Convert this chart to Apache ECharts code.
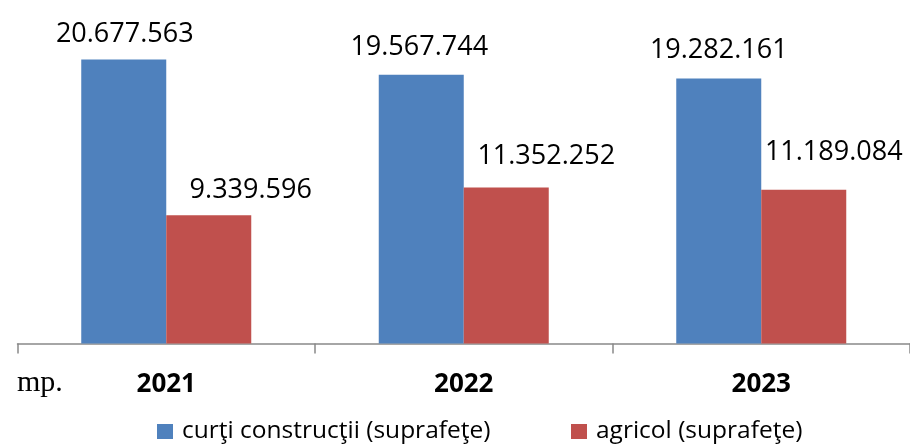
<!DOCTYPE html>
<html>
<head>
<meta charset="utf-8">
<script src="https://cdn.jsdelivr.net/npm/echarts@6/dist/echarts.min.js"></script>
<style>html,body{margin:0;padding:0;background:#fff}#c{width:910px;height:447px}</style>
</head>
<body>
<div id="c"></div>
<script>
var categories = ['2021', '2022', '2023'];
var seriesNames = ['curţi construcţii (suprafeţe)', 'agricol (suprafeţe)'];
var curtiValues = [20677563, 19567744, 19282161];
var agricolValues = [9339596, 11352252, 11189084];

// label placement styling (not data)
var blueLabelDist = [12, 14, 15];
var redLabelDist = [11, 18, 24];
var blueLabelShift = [1, -2, 0];
var redLabelShift = [42, 40, 30];

function fmt(v) {
  return String(v).replace(/\B(?=(\d{3})+(?!\d))/g, '.');
}
function items(values, dists, shifts) {
  return values.map(function (v, i) {
    return { value: v, label: { distance: dists[i], offset: [shifts[i], 0] } };
  });
}

var chart = echarts.init(document.getElementById('c'), null, { renderer: 'canvas' });
var labelFont = { fontFamily: 'Open Sans', fontSize: 27, color: '#000' };
chart.setOption({
  animation: false,
  grid: { left: 17.5, right: -1.5, top: 0, bottom: 103.5, containLabel: false },
  xAxis: {
    type: 'category',
    data: categories,
    axisLine: { lineStyle: { color: '#898989', width: 1.5 } },
    axisTick: { show: true, length: 10, lineStyle: { color: '#898989', width: 1.5 } },
    axisLabel: { fontFamily: 'Open Sans', fontWeight: 'bold', fontSize: 26, color: '#000', margin: 28 }
  },
  yAxis: { type: 'value', min: 0, max: 25000000, show: false, splitLine: { show: false } },
  legend: [
    {
      data: [seriesNames[0]], left: 157, top: 419, padding: 0,
      itemWidth: 16, itemHeight: 15, icon: 'rect',
      textStyle: { fontFamily: 'Open Sans', fontSize: 24.5, color: '#000', padding: [0, 0, 0, 4] }
    },
    {
      data: [seriesNames[1]], left: 571, top: 419, padding: 0,
      itemWidth: 16, itemHeight: 15, icon: 'rect',
      textStyle: { fontFamily: 'Open Sans', fontSize: 24.5, color: '#000', padding: [0, 0, 0, 4] }
    }
  ],
  graphic: [
    {
      type: 'text', left: 17, top: 368,
      style: { text: 'mp.', font: '30px "Liberation Serif"', fill: '#000' }
    }
  ],
  series: [
    {
      name: seriesNames[0], type: 'bar', barWidth: 85, barGap: '0%',
      itemStyle: { color: '#4F81BD' },
      label: Object.assign({ show: true, position: 'top', formatter: function (p) { return fmt(p.value); } }, labelFont),
      data: items(curtiValues, blueLabelDist, blueLabelShift)
    },
    {
      name: seriesNames[1], type: 'bar', barWidth: 85, barGap: '0%',
      itemStyle: { color: '#C0504D' },
      label: Object.assign({ show: true, position: 'top', formatter: function (p) { return fmt(p.value); } }, labelFont),
      data: items(agricolValues, redLabelDist, redLabelShift)
    }
  ]
});
</script>
</body>
</html>
